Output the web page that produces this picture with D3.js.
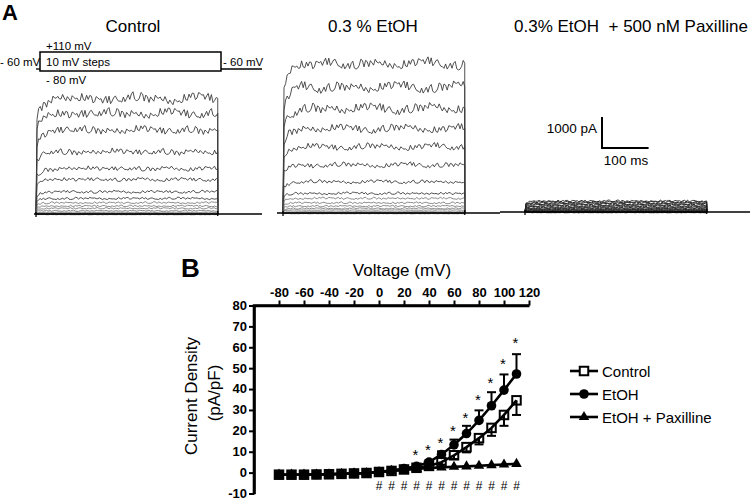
<!DOCTYPE html>
<html>
<head>
<meta charset="utf-8">
<script src="https://cdn.jsdelivr.net/npm/d3@7"></script>
<style>
  html, body { margin: 0; padding: 0; background: #fff; }
  svg { display: block; font-family: "Liberation Sans", Arial, Helvetica, sans-serif; }
</style>
</head>
<body>
<svg id="chart" width="750" height="500"></svg>
<script>
// ---------------- DATA ----------------
// Panel A: steady-state current amplitude (pA) of each step trace, +110 mV down to -80 mV
const stepVoltages = [110, 100, 90, 80, 70, 60, 50, 40, 30, 20, 10, 0, -10, -20, -30, -40, -50, -60, -70, -80];
const controlTraces = [3730, 3250, 2710, 2010, 1470, 1120, 720, 505, 365, 260, 185, 105, 55, 20, 8, 0, -5, -10, -15, -20];
const ethanolTraces = [4830, 4075, 3380, 2730, 2140, 1550, 1010, 635, 475, 330, 225, 150, 95, 40, 10, 0, -5, -10, -15, -20];
const paxillineTraces = [355, 325, 295, 265, 235, 205, 175, 145, 120, 95, 75, 55, 38, 22, 10, 0, -5, -10, -15, -20];
// hand-typed recording noise patterns (fraction of local amplitude)
const noisePattern = [0.3,-0.5,0.8,-0.2,0.6,-0.9,0.1,0.7,-0.4,0.9,-0.6,0.2,-0.8,0.5,-0.1,0.8,-0.7,0.4,-0.3,0.9,-0.5,0.1,0.6,-0.9,0.3,-0.2,0.7,-0.6,0.5,-0.4,0.9,-0.1,0.2,-0.8,0.6,-0.3,0.4,-0.7,0.8,-0.5,0.1,0.9,-0.6,0.3,-0.9,0.5,-0.2,0.7,-0.4,0.6,-0.8,0.2,0.4,-0.6,0.9,-0.3,0.5,-0.7,0.1,0.8,-0.2,0.3,-0.5,0.6];
const wanderPattern = [0.2,0.6,0.1,-0.4,-0.7,-0.2,0.5,0.9,0.3,-0.3,-0.8,-0.5,0.1,0.4,0.8,0.2,-0.6,-0.9,-0.1,0.6,0.3,-0.2,-0.5,0.4,0.7,-0.1,-0.6,0.2,0.9,0.1,-0.4,0.3];
const stepDurationMs = 390;

// Panel B: I-V relationship
const voltages = [-80, -70, -60, -50, -40, -30, -20, -10, 0, 10, 20, 30, 40, 50, 60, 70, 80, 90, 100, 110];
const controlDensity = [-1, -1, -1, -0.9, -0.8, -0.6, -0.4, -0.2, 0.3, 0.8, 1.5, 2.3, 3.2, 5, 8.3, 12.2, 16.5, 21.4, 27.6, 34.6];
const controlErr     = [0, 0, 0, 0, 0, 0, 0, 0, 0, 0, 0.3, 0.5, 0.8, 1.2, 1.8, 2.5, 3, 3.8, 5.2, 7];
const ethanolDensity = [-1, -1, -1, -0.9, -0.8, -0.6, -0.4, -0.2, 0.4, 1, 2, 3, 5, 8.7, 13.3, 18.7, 25, 32, 39.5, 47.2];
const ethanolErr     = [0, 0, 0, 0, 0, 0, 0, 0, 0, 0, 0.3, 0.6, 1, 1.5, 2.5, 3.7, 4.8, 6.5, 7.5, 9.5];
const paxillineDensity = [-1, -1, -1, -0.9, -0.8, -0.6, -0.4, -0.2, 0.3, 0.8, 1.3, 1.8, 2.2, 2.5, 2.8, 3.0, 3.3, 3.6, 3.9, 4.2];
const starVoltages = [30, 40, 50, 60, 70, 80, 90, 100, 110];
const starLevels   = [10.1, 12.2, 15.4, 21.4, 27.8, 36.3, 44.4, 53.3, 63.5];
const hashVoltages = [0, 10, 20, 30, 40, 50, 60, 70, 80, 90, 100, 110];
const hashLevel = -6;
const xTicks = [-80, -60, -40, -20, 0, 20, 40, 60, 80, 100, 120];
const yTicks = [-10, 0, 10, 20, 30, 40, 50, 60, 70, 80];
const seriesNames = ["Control", "EtOH", "EtOH + Paxilline"];

// ---------------- DRAW ----------------
const svg = d3.select("#chart");
const ink = "#000";

// ===== Panel A =====
svg.append("text").attr("x", 2).attr("y", 20).attr("font-size", 22).attr("font-weight", "bold").text("A");

const panels = [
  { title: "Control", tx: 133, anchor: "middle", x0: 36, base: 214, lineStart: 34, lineEnd: 262, amps: controlTraces, off: 0, dark: false },
  { title: "0.3 % EtOH", tx: 373, anchor: "middle", x0: 283, base: 213, lineStart: 277, lineEnd: 500, amps: ethanolTraces, off: 21, dark: false },
  { title: "0.3% EtOH  + 500 nM Paxilline", tx: 514, anchor: "start", x0: 525, base: 212, lineStart: 500, lineEnd: 750, amps: paxillineTraces, off: 40, dark: true }
];
const pxPer100ms = 46.6;
const pxPer1000pA = 31;

panels.forEach(p => {
  svg.append("text").attr("x", p.tx).attr("y", 32).attr("text-anchor", p.anchor)
    .attr("font-size", 17).attr("xml:space", "preserve").text(p.title);
  const t = d3.scaleLinear().domain([0, 100]).range([p.x0, p.x0 + pxPer100ms]);
  const iy = d3.scaleLinear().domain([0, 1000]).range([p.base, p.base - pxPer1000pA]);
  const tEnd = t(stepDurationMs);
  const line = d3.line().x(d => d[0]).y(d => d[1]);
  const g = svg.append("g");
  p.amps.forEach((amp, k) => {
    const h = iy(0) - iy(amp); // px height
    const ah = Math.abs(h);
    const nAmp = Math.min(4.8, ah * 0.04 + (ah > 3 ? 0.5 : 0.15));
    const wAmp = Math.min(3, ah * 0.025);
    const pts = [[p.x0, p.base]];
    let idx = 0;
    for (let x = p.x0 + 1; x <= tEnd; x += 1.6) {
      const dx = x - p.x0;
      const act = 1 - 0.2 * Math.exp(-dx / 5);
      const nz = noisePattern[(idx * 5 + p.off + k * 11) % noisePattern.length] * nAmp;
      const wi = idx / 6 + k * 3 + p.off;
      const w0 = wanderPattern[Math.floor(wi) % wanderPattern.length];
      const w1 = wanderPattern[(Math.floor(wi) + 1) % wanderPattern.length];
      const wz = (w0 + (w1 - w0) * (wi - Math.floor(wi))) * wAmp;
      pts.push([x, p.base - h * act + nz + wz]);
      idx++;
    }
    pts.push([tEnd, p.base - h]);
    pts.push([tEnd, p.base]);
    g.append("path").attr("d", line(pts)).attr("fill", "none")
      .attr("stroke", p.dark ? "#222" : (k < 8 ? "#3c3c3c" : "#5a5a5a"))
      .attr("stroke-width", p.dark ? 0.9 : (k < 8 ? 0.9 : 0.7));
  });
  // baseline holding current
  svg.append("line").attr("x1", p.lineStart).attr("x2", p.lineEnd).attr("y1", p.base).attr("y2", p.base)
    .attr("stroke", ink).attr("stroke-width", 1.3);
  svg.append("line").attr("x1", p.x0).attr("x2", p.x0).attr("y1", p.base - 2).attr("y2", p.base + 3)
    .attr("stroke", ink).attr("stroke-width", 1.3);
  svg.append("line").attr("x1", tEnd).attr("x2", tEnd).attr("y1", p.base - 3).attr("y2", p.base + 2)
    .attr("stroke", ink).attr("stroke-width", 1.3);
});

// voltage protocol
const proto = svg.append("g");
proto.append("rect").attr("x", 40).attr("y", 52).attr("width", 181).attr("height", 19)
  .attr("fill", "none").attr("stroke", ink).attr("stroke-width", 1.5);
proto.append("line").attr("x1", 36).attr("x2", 40).attr("y1", 69).attr("y2", 69).attr("stroke", ink).attr("stroke-width", 1.3);
proto.append("line").attr("x1", 221).attr("x2", 262).attr("y1", 69).attr("y2", 69).attr("stroke", ink).attr("stroke-width", 1.3);
const pf = 11.5;
proto.append("text").attr("x", 0).attr("y", 66).attr("font-size", pf).attr("xml:space", "preserve").text("- 60 mV");
proto.append("text").attr("x", 223).attr("y", 66).attr("font-size", pf).attr("xml:space", "preserve").text("- 60 mV");
proto.append("text").attr("x", 46).attr("y", 49.5).attr("font-size", pf).text("+110 mV");
proto.append("text").attr("x", 46).attr("y", 66).attr("font-size", pf).text("10 mV steps");
proto.append("text").attr("x", 46).attr("y", 83.5).attr("font-size", pf).attr("xml:space", "preserve").text("- 80 mV");

// scale bar
const sb = svg.append("g");
sb.append("path").attr("d", `M602,${117}V${117 + pxPer1000pA}H${602 + pxPer100ms}`)
  .attr("fill", "none").attr("stroke", ink).attr("stroke-width", 2);
sb.append("text").attr("x", 597).attr("y", 133).attr("text-anchor", "end").attr("font-size", 13.5).text("1000 pA");
sb.append("text").attr("x", 626).attr("y", 165).attr("text-anchor", "middle").attr("font-size", 13.5).text("100 ms");

// ===== Panel B =====
svg.append("text").attr("x", 181).attr("y", 277).attr("font-size", 26).attr("font-weight", "bold").text("B");

const x = d3.scaleLinear().domain([-100, 120]).range([254, 529]);
const y = d3.scaleLinear().domain([-10, 80]).range([493.5, 305.5]);
const fmt = d => String(d);

const xAxis = svg.append("g").attr("transform", `translate(0,${y(80)})`)
  .call(d3.axisTop(x).tickValues(xTicks).tickFormat(fmt).tickSize(5).tickPadding(4).tickSizeOuter(0));
const yAxis = svg.append("g").attr("transform", `translate(${x(-100)},0)`)
  .call(d3.axisLeft(y).tickValues(yTicks).tickFormat(fmt).tickSize(5).tickPadding(2).tickSizeOuter(0));
[xAxis, yAxis].forEach(a => {
  a.select(".domain").attr("stroke", ink).attr("stroke-width", 2.6);
  a.selectAll(".tick line").attr("stroke", ink).attr("stroke-width", 2);
  a.selectAll(".tick text").attr("fill", ink).attr("font-size", 13).attr("font-weight", "bold")
    .attr("font-family", "'Liberation Sans', Arial, sans-serif");
});
yAxis.selectAll(".tick text").attr("dy", "0.3em");
// extend axes so they meet at the corner
svg.append("line").attr("x1", x(-100) - 1.3).attr("x2", x(120)).attr("y1", y(80)).attr("y2", y(80)).attr("stroke", ink).attr("stroke-width", 2.6);
svg.append("line").attr("x1", x(-100)).attr("x2", x(-100)).attr("y1", y(80)).attr("y2", y(-10) + 1).attr("stroke", ink).attr("stroke-width", 2.6);

svg.append("text").attr("x", 402).attr("y", 276).attr("text-anchor", "middle").attr("font-size", 17).text("Voltage (mV)");
svg.append("text").attr("transform", `translate(197,396) rotate(-90)`).attr("text-anchor", "middle").attr("font-size", 17).text("Current Density");
svg.append("text").attr("transform", `translate(220,393) rotate(-90)`).attr("text-anchor", "middle").attr("font-size", 17).text("(pA/pF)");

const lineGen = d3.line().x((d, i) => x(voltages[i])).y(d => y(d));
const plot = svg.append("g");

// error bars
function errBars(vals, errs, dir) {
  vals.forEach((v, i) => {
    if (errs[i] <= 0.6) return;
    const cx = x(voltages[i]);
    const end = y(v + dir * errs[i]);
    plot.append("line").attr("x1", cx).attr("x2", cx).attr("y1", y(v)).attr("y2", end).attr("stroke", ink).attr("stroke-width", 2);
    plot.append("line").attr("x1", cx - 4.5).attr("x2", cx + 4.5).attr("y1", end).attr("y2", end).attr("stroke", ink).attr("stroke-width", 2);
  });
}
errBars(controlDensity, controlErr, -1);
errBars(ethanolDensity, ethanolErr, 1);

[controlDensity, ethanolDensity, paxillineDensity].forEach(s => {
  plot.append("path").attr("d", lineGen(s)).attr("fill", "none").attr("stroke", ink).attr("stroke-width", 2.6);
});

const sq = 8.5;
controlDensity.forEach((v, i) => {
  plot.append("rect").attr("x", x(voltages[i]) - sq / 2).attr("y", y(v) - sq / 2).attr("width", sq).attr("height", sq)
    .attr("fill", "none").attr("stroke", ink).attr("stroke-width", 2);
});
ethanolDensity.forEach((v, i) => {
  plot.append("circle").attr("cx", x(voltages[i])).attr("cy", y(v)).attr("r", 4.8).attr("fill", ink);
});
const tri = d3.symbol().type(d3.symbolTriangle).size(48);
paxillineDensity.forEach((v, i) => {
  plot.append("path").attr("d", tri()).attr("transform", `translate(${x(voltages[i])},${y(v)})`).attr("fill", ink);
});

// significance markers
starVoltages.forEach((vv, i) => {
  plot.append("text").attr("x", x(vv) - 1).attr("y", y(starLevels[i]) + 8).attr("text-anchor", "middle")
    .attr("font-size", 15).text("*");
});
hashVoltages.forEach(vv => {
  plot.append("text").attr("x", x(vv)).attr("y", y(hashLevel) + 4.5).attr("text-anchor", "middle")
    .attr("font-size", 12).text("#");
});

// legend
const legendRows = [371, 394, 417];
const leg = svg.append("g");
seriesNames.forEach((name, i) => {
  const ly = legendRows[i];
  leg.append("line").attr("x1", 570).attr("x2", 598).attr("y1", ly).attr("y2", ly).attr("stroke", ink).attr("stroke-width", 2.6);
  if (i === 0) {
    leg.append("rect").attr("x", 584 - 4.25).attr("y", ly - 4.25).attr("width", 8.5).attr("height", 8.5)
      .attr("fill", "#fff").attr("stroke", ink).attr("stroke-width", 2);
  } else if (i === 1) {
    leg.append("circle").attr("cx", 584).attr("cy", ly).attr("r", 4.8).attr("fill", ink);
  } else {
    leg.append("path").attr("d", tri()).attr("transform", `translate(584,${ly})`).attr("fill", ink);
  }
  leg.append("text").attr("x", 602).attr("y", ly + 5.5).attr("font-size", 15).text(name);
});
</script>
</body>
</html>
